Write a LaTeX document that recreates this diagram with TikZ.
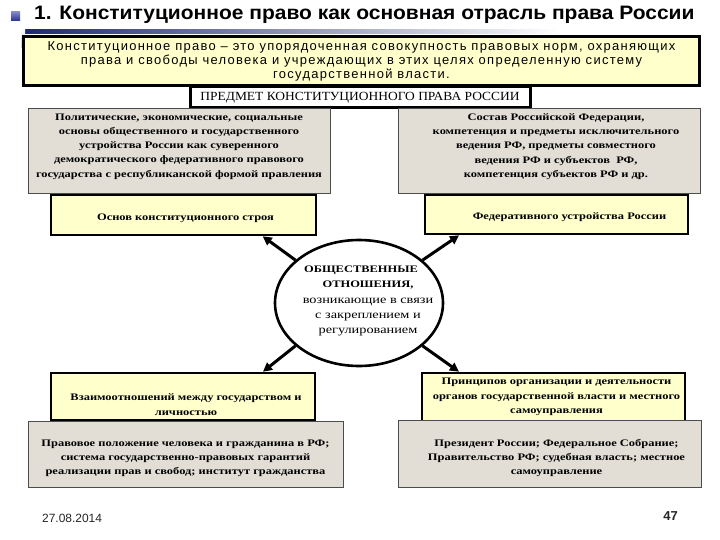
\documentclass[tikz,border=0pt]{standalone}
\usepackage{fontspec}
\setmainfont{Liberation Serif}
\newfontfamily\sansf{Liberation Sans}
\newfontfamily\titlef[FakeStretch=1.08]{Liberation Sans}
\newfontfamily\deff[LetterSpace=10]{Liberation Sans}
\newfontfamily\boxf[FakeStretch=1.25]{Liberation Serif}
\newfontfamily\subjf[FakeStretch=1.08]{Liberation Serif}
\usetikzlibrary{arrows.meta,shapes.geometric,calc}
\definecolor{ylw}{HTML}{FFFFCC}
\definecolor{gry}{HTML}{E2DED6}
\definecolor{navy}{HTML}{1F2A6E}
\definecolor{bul}{HTML}{2B35A0}
\tikzset{
  graybox/.style={draw=black!70, line width=0.8bp, fill=gry, inner sep=0pt},
  ylwbox/.style={draw=black, line width=2.6bp, fill=ylw, inner sep=0pt},
  btxt/.style={font=\boxf\bfseries\fontsize{10}{14.3}\selectfont, align=center, inner sep=0pt},
  arr/.style={line width=3bp, -{Triangle[length=9bp,width=9bp]}},
}
\begin{document}
\begin{tikzpicture}[x=1bp,y=-1bp]
\useasboundingbox (0,0) rectangle (720,540);
% title decoration
\shade[top color=bul!60, bottom color=bul!90!black] (11,12) rectangle (20,21);
\shade[left color=navy, right color=white] (25,30) rectangle (560,34);
\shade[top color=white, bottom color=navy!25] (21,28) rectangle (25,48);
\node[anchor=west, inner sep=0pt, font=\titlef\bfseries\fontsize{19.5}{22}\selectfont] (title) at (34,15) {1. Конституционное право как основная отрасль права России};
% definition
\node[draw=black, line width=3bp, fill=ylw, minimum width=675bp, minimum height=49bp, inner sep=0pt,
  align=center, font=\deff\fontsize{13}{14}\selectfont] (def) at (361.5,61.5)
  {Конституционное право – это упорядоченная совокупность правовых норм, охраняющих\\права и свободы человека и учреждающих в этих целях определенную систему\\государственной власти.};
\node[draw=black, line width=3bp, fill=white, minimum width=340bp, minimum height=21bp, inner sep=0pt,
  font=\subjf\fontsize{12.5}{14}\selectfont] (subj) at (360,97.5) {ПРЕДМЕТ КОНСТИТУЦИОННОГО ПРАВА РОССИИ};
% upper gray boxes
\node[graybox, minimum width=302bp, minimum height=85bp,
  label={[btxt, yshift=4bp]center:{Политические, экономические, социальные\\основы общественного и государственного\\устройства России как суверенного\\демократического федеративного правового\\государства с республиканской формой правления}}] (gl) at (179,150.5) {};
\node[graybox, minimum width=302bp, minimum height=85bp,
  label={[btxt, yshift=4bp, xshift=7bp]center:{Состав Российской Федерации,\\компетенция и предметы исключительного\\ведения РФ, предметы совместного\\ведения РФ и субъектов~~РФ,\\компетенция субъектов РФ и др.}}] (gr) at (549,150.5) {};
% upper yellow boxes
\node[ylwbox, minimum width=265bp, minimum height=40bp,
  label={[btxt, yshift=-3bp, xshift=2bp]center:{Основ конституционного строя}}] (yl) at (183.5,215) {};
\node[ylwbox, minimum width=263bp, minimum height=39bp,
  label={[btxt, yshift=-3bp, xshift=13bp]center:{Федеративного устройства России}}] (yr) at (556.5,214.5) {};
% central ellipse
\node[draw=black, line width=2.6bp, ellipse, fill=white, minimum width=168bp, minimum height=126bp, inner sep=0pt,
  label={[align=center, inner sep=0pt, font=\boxf\fontsize{11.5}{15.5}\selectfont, xshift=9bp, yshift=2bp]center:{{\fontsize{10}{15.5}\selectfont\bfseries ОБЩЕСТВЕННЫЕ}\hspace*{14bp}\\{\fontsize{10}{15.5}\selectfont\bfseries ОТНОШЕНИЯ,}\hspace*{14bp}\\возникающие в связи\\с закреплением и\\регулированием}}] (rel) at (359,303) {};
% lower yellow boxes
\node[ylwbox, minimum width=264bp, minimum height=47bp,
  label={[btxt, yshift=-8bp, xshift=3bp]center:{Взаимоотношений между государством и\\личностью}}] (yl2) at (183,396.5) {};
\node[ylwbox, minimum width=263bp, minimum height=48bp,
  label={[btxt, xshift=3bp]center:{Принципов организации и деятельности\\органов государственной власти и местного\\самоуправления}}] (yr2) at (553.5,397) {};
% lower gray boxes
\node[graybox, minimum width=315bp, minimum height=66bp,
  label={[btxt, yshift=-4.5bp]center:{Правовое положение человека и гражданина в РФ;\\система государственно-правовых гарантий\\реализации прав и свобод; институт гражданства}}] (gl2) at (185.5,454) {};
\node[graybox, minimum width=303bp, minimum height=67bp,
  label={[btxt, yshift=-4.5bp, xshift=7bp]center:{Президент России; Федеральное Собрание;\\Правительство РФ; судебная власть; местное\\самоуправление}}] (gr2) at (549.5,453.5) {};
% arrows
\draw[arr] (rel.146) -- ($(yl.south west)!0.796!(yl.south east)$);
\draw[arr] (rel.34) -- ($(yr.south west)!0.133!(yr.south east)$);
\draw[arr] (rel.214) -- ($(yl2.north west)!0.8!(yl2.north east)$);
\draw[arr] (rel.326) -- ($(yr2.north west)!0.144!(yr2.north east)$);
% footer
\node[anchor=west, inner sep=0pt, font=\sansf\fontsize{12}{13}\selectfont, text=black!85] (date) at (42,518) {27.08.2014};
\node[anchor=east, inner sep=0pt, font=\sansf\bfseries\fontsize{13}{15}\selectfont, text=black!85] (page) at (678,516) {47};
\end{tikzpicture}
\end{document}
